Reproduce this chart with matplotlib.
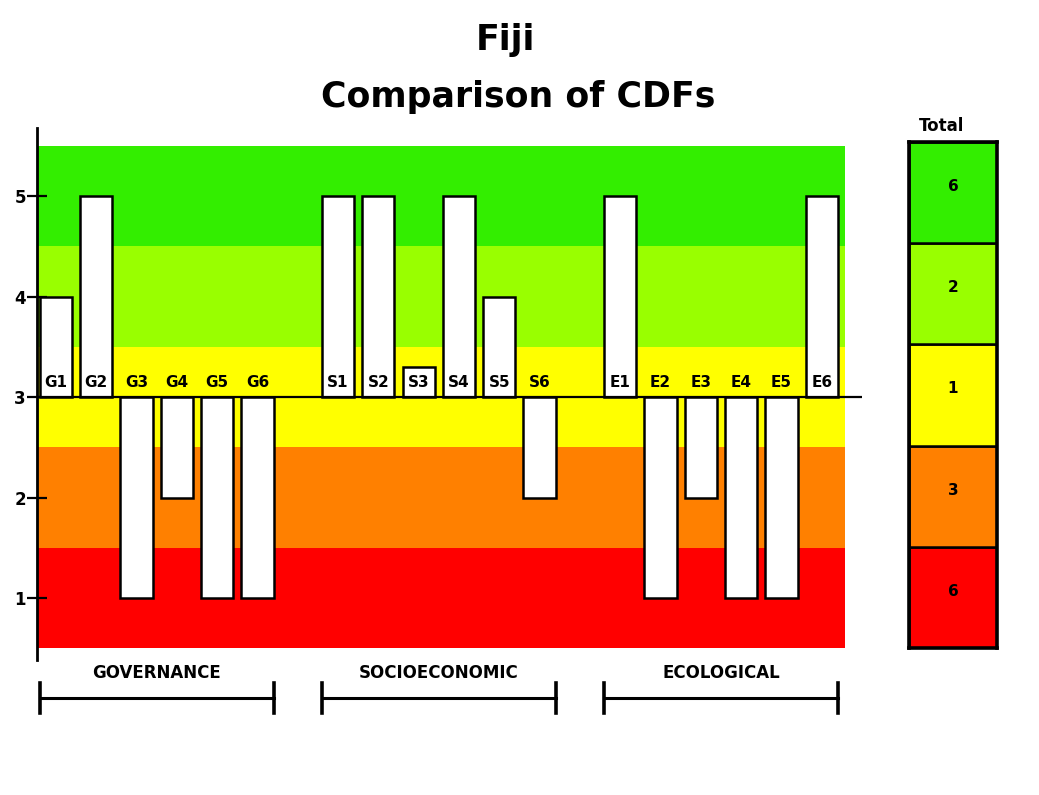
import matplotlib.pyplot as plt

plt.rcParams['font.family'] = ['DejaVu Sans']
plt.rcParams['font.weight'] = 'bold'

# CDF scores per indicator (3 = neutral baseline)
labels = ["G1", "G2", "G3", "G4", "G5", "G6",
          "S1", "S2", "S3", "S4", "S5", "S6",
          "E1", "E2", "E3", "E4", "E5", "E6"]
scores = [4, 5, 1, 2, 1, 1,
          5, 5, 3.3, 5, 4, 2,
          5, 1, 2, 1, 1, 5]
groups = ["GOVERNANCE", "SOCIOECONOMIC", "ECOLOGICAL"]

# score bands and totals shown in the right-hand box
band_levels = [1, 2, 3, 4, 5]
band_colors = ["#ff0000", "#ff8000", "#ffff00", "#99ff00", "#33ee00"]
totals = [6, 3, 1, 2, 6]

baseline = 3
xpos = [g * 7 + k for g in range(3) for k in range(6)]

fig = plt.figure(figsize=(10.39, 7.95), dpi=100)
ax = fig.add_axes([37 / 1039, 135 / 795, 825 / 1039, 532 / 795])
ax.set_xlim(-0.47, 20)
ax.set_ylim(0.383, 5.677)

for lvl, col in zip(band_levels, band_colors):
    ax.axhspan(lvl - 0.5, lvl + 0.5, xmin=0, xmax=20.04 / 20.47, color=col, lw=0, zorder=0)

ax.bar(xpos, [s - baseline for s in scores], bottom=baseline, width=0.8,
       color="white", edgecolor="black", linewidth=1.8, zorder=2)
ax.axhline(baseline, color="black", lw=1.6, zorder=3)

for x, lab in zip(xpos, labels):
    ax.text(x, baseline + 0.145, lab, ha="center", va="center", fontsize=11,
            fontweight="bold", zorder=4)

for g, name in enumerate(groups):
    x0 = xpos[g * 6] - 0.4
    x1 = xpos[g * 6 + 5] + 0.4
    ax.text((x0 + x1) / 2, 0.25, name, ha="center", va="center", fontsize=12,
            fontweight="bold", clip_on=False)
    ax.plot([x0, x1], [0.005, 0.005], color="black", lw=2.2, clip_on=False)
    for xe in (x0, x1):
        ax.plot([xe, xe], [-0.145, 0.155], color="black", lw=2.6, clip_on=False)

for side in ("top", "right", "bottom"):
    ax.spines[side].set_visible(False)
ax.spines["left"].set_linewidth(2)
ax.set_xticks([])
ax.set_yticks(band_levels)
ax.tick_params(axis="y", direction="inout", length=14, width=1.6, labelsize=12, pad=1)
for t in ax.get_yticklabels():
    t.set_fontweight("bold")

fig.text(505 / 1039, 1 - 40 / 795, "Fiji", ha="center", va="center", fontsize=25, fontweight="bold")
fig.text(518 / 1039, 1 - 97 / 795, "Comparison of CDFs", ha="center", va="center",
         fontsize=25, fontweight="bold")

# totals box
lx = fig.add_axes([909 / 1039, 147 / 795, 88 / 1039, 506 / 795])
lx.set_xlim(0, 1)
lx.set_ylim(0, 5)
lx.bar([0.5] * 5, [1] * 5, bottom=[i for i in range(5)], width=1,
       color=band_colors, edgecolor="black", linewidth=1.8)
for i, n in enumerate(totals):
    lx.text(0.5, i + 0.56, str(n), ha="center", va="center", fontsize=11, fontweight="bold")
lx.set_xticks([])
lx.set_yticks([])
for sp in lx.spines.values():
    sp.set_linewidth(2.6)
lx.text(0.37, 5.16, "Total", ha="center", va="center", fontsize=12, fontweight="bold",
        clip_on=False)

fig.savefig("out.png", dpi=100)
